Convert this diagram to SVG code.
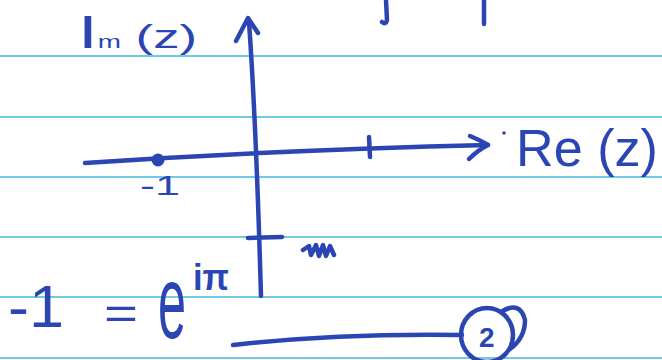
<svg xmlns="http://www.w3.org/2000/svg" width="662" height="360" viewBox="0 0 662 360">
<style>
.rule{stroke:#72c9e6;stroke-width:2;fill:none}
.ink{stroke:#2b46b2;stroke-width:4.5;fill:none;stroke-linecap:round;stroke-linejoin:round}
.txt{fill:#2b46b2;font-family:"Liberation Sans",Arial,sans-serif}
</style>
<rect width="662" height="360" fill="#ffffff"/>
<g id="paper">
<line class="rule" x1="0" y1="56" x2="662" y2="56"/>
<line class="rule" x1="0" y1="117" x2="662" y2="117"/>
<line class="rule" x1="0" y1="177" x2="662" y2="177"/>
<line class="rule" x1="0" y1="237" x2="662" y2="237"/>
<line class="rule" x1="0" y1="297" x2="662" y2="297"/>
<line class="rule" x1="0" y1="358" x2="662" y2="358"/>
</g>
<g id="top-strokes">
<path class="ink" d="M386 0 L387 20 Q386 25 382 22"/>
<path class="ink" d="M484 0 L484 24"/>
</g>
<g id="connectors">
<path id="imag-axis" class="ink" d="M249 22 Q256 120 261 296"/>
<path id="imag-arrow" class="ink" d="M236 41 L248 18 L258 33"/>
<path id="real-axis" class="ink" d="M85 163 Q280 150 488 145"/>
<path id="real-arrow" class="ink" d="M470 136 Q480 140 488 145 Q478 150 469 159"/>
<path id="bottom-line" class="ink" d="M233 345 Q340 333 462 335"/>
</g>
<g id="ticks">
<line class="ink" x1="369" y1="137" x2="370" y2="157"/>
<line class="ink" x1="248" y1="238" x2="282" y2="237"/>
<circle cx="158" cy="160" r="6.5" fill="#2b46b2"/>
</g>
<g id="label-im">
<text class="txt" x="78" y="48" font-size="46" textLength="119" lengthAdjust="spacingAndGlyphs">I<tspan font-size="18">m</tspan><tspan font-size="34"> (z)</tspan></text>
</g>
<g id="label-re">
<circle cx="504" cy="133" r="1.8" fill="#2b46b2"/>
<text class="txt" x="516" y="166" font-size="52" textLength="142" lengthAdjust="spacingAndGlyphs">Re (z)</text>
</g>
<g id="label-minus1">
<text class="txt" x="140" y="195" font-size="28" textLength="40" lengthAdjust="spacingAndGlyphs">-1</text>
</g>
<g id="label-i">
<path class="ink" stroke-width="5" d="M303 250 L309 246 L311 255 L316 245 L319 256 L323 245 L326 256 L330 246 L334 255"/>
</g>
<g id="equation">
<text class="txt" x="8" y="327" font-size="60" textLength="56" lengthAdjust="spacingAndGlyphs">-1</text>
<text class="txt" x="104" y="329" font-size="44" textLength="34" lengthAdjust="spacingAndGlyphs">=</text>
<g transform="translate(158,338) scale(0.9,1.85)"><text class="txt" x="0" y="0" font-size="56">e</text></g>
<text class="txt" x="193" y="290" font-size="36" font-weight="bold" textLength="36" lengthAdjust="spacingAndGlyphs">iπ</text>
</g>
<g id="circled-2">
<ellipse class="ink" cx="487" cy="335" rx="26" ry="27"/>
<path class="ink" d="M501 312 Q520 300 525 320 Q525 338 510 349"/>
<text class="txt" x="479" y="347" font-size="28" font-weight="bold">2</text>
</g>
</svg>
